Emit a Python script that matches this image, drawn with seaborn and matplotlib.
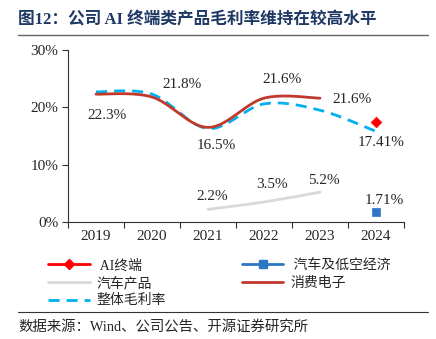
import numpy as np
import pandas as pd
import matplotlib
matplotlib.use("Agg")
import matplotlib.pyplot as plt
from matplotlib.lines import Line2D
import seaborn as sns

years = ["2019", "2020", "2021", "2022", "2023", "2024"]
consumer_elec = [22.3, 21.8, 16.5, 21.6, 21.6]          # 2019-2023
overall_margin = [22.7, 22.3, 16.3, 20.6, 19.5, 15.8]   # 2019-2024
auto_products = [2.2, 3.5, 5.2]                         # 2021-2023
ai_terminal = [17.41]                                   # 2024
auto_lowalt = [1.71]                                    # 2024
y_ticks = [0, 10, 20, 30]

sns.set_theme(style="white")
plt.rcParams["font.family"] = ["Liberation Serif", "Noto Sans CJK SC", "DejaVu Sans"]
plt.rcParams["axes.unicode_minus"] = False

fig = plt.figure(figsize=(4.36, 3.39), dpi=100)
ax = fig.add_axes([68 / 436, 1 - 222 / 339, 336 / 436, 172 / 339])


def smooth(xs, ys, n=40):
    xs = np.asarray(xs, float)
    ys = np.asarray(ys, float)
    px = np.concatenate([[xs[0]], xs, [xs[-1]]])
    py = np.concatenate([[ys[0]], ys, [ys[-1]]])
    ox, oy = [], []
    t = np.linspace(0, 1, n)
    for i in range(1, len(px) - 2):
        p0 = np.array([px[i], py[i]])
        p3 = np.array([px[i + 1], py[i + 1]])
        c1 = p0 + (np.array([px[i + 1], py[i + 1]]) - np.array([px[i - 1], py[i - 1]])) / 6
        c2 = p3 - (np.array([px[i + 2], py[i + 2]]) - np.array([px[i], py[i]])) / 6
        b = ((1 - t) ** 3)[:, None] * p0 + (3 * (1 - t) ** 2 * t)[:, None] * c1 \
            + (3 * (1 - t) * t ** 2)[:, None] * c2 + (t ** 3)[:, None] * p3
        ox.extend(b[:, 0])
        oy.extend(b[:, 1])
    return pd.DataFrame({"x": ox, "y": oy})


c_red = "#C0392B"
c_dash = "#00B0F0"
c_gray = "#D9D9D9"
c_ai = "#FF0000"
c_sq = "#2E75C6"
dash = (0, (4, 2.5))

d_ce = smooth(range(0, 5), consumer_elec)
d_ov = smooth(range(0, 6), overall_margin)
d_au = smooth(range(2, 5), auto_products)

sns.lineplot(data=d_au, x="x", y="y", ax=ax, color=c_gray, lw=2.0, sort=False, estimator=None)
sns.lineplot(data=d_ov, x="x", y="y", ax=ax, color=c_dash, lw=2.0, sort=False, estimator=None,
             linestyle=dash)
sns.lineplot(data=d_ce, x="x", y="y", ax=ax, color=c_red, lw=2.0, sort=False, estimator=None)
sns.scatterplot(x=[5], y=ai_terminal, ax=ax, color=c_ai, marker="D", s=30, edgecolor=c_ai, zorder=5)
sns.scatterplot(x=[5], y=auto_lowalt, ax=ax, color=c_sq, marker="s", s=40, edgecolor=c_sq, zorder=5)

fs = 11
ce_off = [(0.19, 18.5), (0.53, 23.9), (0.155, 13.4), (0.32, 24.9), (0.57, 21.3)]
for i, v in enumerate(consumer_elec):
    dx, yy = ce_off[i]
    ax.text(i + dx, yy, f"{v:.1f}%", ha="center", va="center", fontsize=fs)
au_off = [(0.077, 4.5), (0.137, 6.6), (0.07, 7.3)]
for j, v in enumerate(auto_products):
    dx, yy = au_off[j]
    ax.text(2 + j + dx, yy, f"{v:.1f}%", ha="center", va="center", fontsize=fs)
ax.text(5 + 0.1, 13.8, f"{ai_terminal[0]:.2f}%", ha="center", va="center", fontsize=fs)
ax.text(5 + 0.14, 3.8, f"{auto_lowalt[0]:.2f}%", ha="center", va="center", fontsize=fs)

ax.set_xlim(-0.5, 5.5)
ax.set_ylim(0, 30)
ax.set_xticks(range(6))
ax.set_xticklabels(years, fontsize=fs)
ax.set_xticks(np.arange(-0.5, 6, 1), minor=True)
ax.set_yticks(y_ticks)
ax.set_yticklabels([f"{v}%" for v in y_ticks], fontsize=fs)
ax.tick_params(axis="x", which="major", length=0, pad=6)
ax.tick_params(axis="x", which="minor", length=4, width=0.8, color="#333333", direction="out", bottom=True)
ax.tick_params(axis="y", length=4, width=0.8, color="#333333", direction="out", left=True, pad=3)
ax.set_xlabel("")
ax.set_ylabel("")
for s in ["top", "right"]:
    ax.spines[s].set_visible(False)
for s in ["left", "bottom"]:
    ax.spines[s].set_color("#333333")
    ax.spines[s].set_linewidth(0.8)

handles = [
    Line2D([], [], color=c_ai, lw=2, marker="D", markersize=5),
    Line2D([], [], color=c_gray, lw=2),
    Line2D([], [], color=c_dash, lw=2, linestyle=dash),
    Line2D([], [], color=c_sq, lw=2, marker="s", markersize=6),
    Line2D([], [], color=c_red, lw=2),
]
labels = [" AI终端", "汽车产品", "整体毛利率", " 汽车及低空经济", "消费电子"]
fig.legend(handles, labels, ncol=2, loc="upper left", bbox_to_anchor=(48 / 436, 1 - 259 / 339),
           frameon=False, fontsize=10, handlelength=3.0, handletextpad=0.5,
           columnspacing=5.45, labelspacing=0.3, borderaxespad=0, borderpad=0)

fig.text(18 / 436, 1 - 20 / 339, "图12：公司 AI 终端类产品毛利率维持在较高水平", fontsize=12,
         fontweight="bold", color="#1F3864", va="center", ha="left")
fig.add_artist(Line2D([18 / 436, 428 / 436], [1 - 35 / 339] * 2, color="#666666", lw=1,
                      transform=fig.transFigure))
fig.add_artist(Line2D([18 / 436, 428 / 436], [1 - 312 / 339] * 2, color="#333333", lw=0.8,
                      transform=fig.transFigure))
fig.text(18 / 436, 1 - 327 / 339, "数据来源：Wind、公司公告、开源证券研究所", fontsize=10.4,
         va="center", ha="left")

fig.savefig("out.png", dpi=100)
